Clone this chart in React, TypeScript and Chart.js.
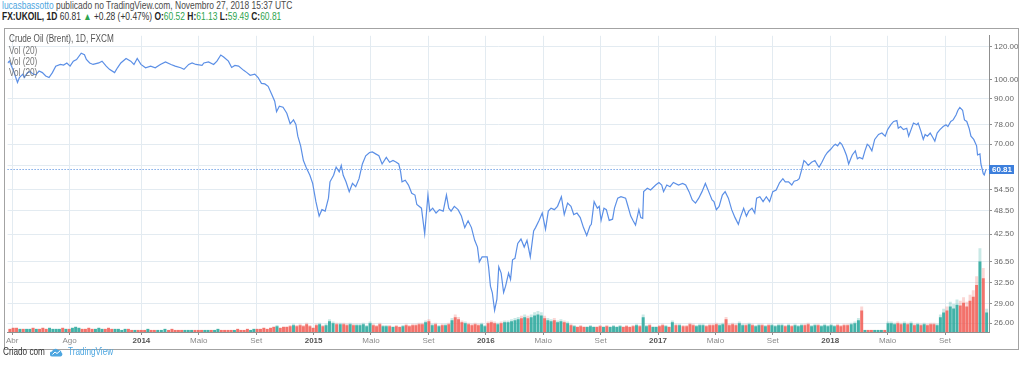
import React, { useEffect, useRef } from "react";
import { Chart, registerables } from "chart.js";

Chart.register(...registerables);

// ---------------- DATA ----------------
const PRICE_DATES: string[] = [
  "2013-03-22","2013-03-26","2013-04-05","2013-04-12","2013-04-16","2013-04-23","2013-04-26","2013-05-03","2013-05-09","2013-05-14",
  "2013-05-21","2013-05-28","2013-06-04","2013-06-11","2013-06-18","2013-06-25","2013-07-02","2013-07-12","2013-07-19","2013-07-26",
  "2013-08-02","2013-08-09","2013-08-16","2013-08-26","2013-09-02","2013-09-06","2013-09-13","2013-09-20","2013-10-02","2013-10-09",
  "2013-10-18","2013-10-25","2013-11-05","2013-11-11","2013-11-18","2013-11-29","2013-12-09","2013-12-16","2013-12-23","2013-12-31",
  "2014-01-10","2014-01-21","2014-01-31","2014-02-10","2014-02-20","2014-03-03","2014-03-12","2014-03-24","2014-03-31","2014-04-10",
  "2014-04-17","2014-04-25","2014-05-08","2014-05-12","2014-05-22","2014-06-02","2014-06-09","2014-06-17","2014-06-23","2014-07-03",
  "2014-07-10","2014-07-17","2014-07-25","2014-08-05","2014-08-12","2014-08-19","2014-08-29","2014-09-05","2014-09-12","2014-09-19",
  "2014-09-26","2014-10-03","2014-10-10","2014-10-14","2014-10-20","2014-10-28","2014-11-05","2014-11-12","2014-11-19","2014-11-24",
  "2014-11-28","2014-12-04","2014-12-10","2014-12-17","2014-12-24","2014-12-30","2015-01-06","2015-01-13","2015-01-19","2015-01-26",
  "2015-02-02","2015-02-05","2015-02-12","2015-02-17","2015-02-23","2015-02-27","2015-03-03","2015-03-09","2015-03-16","2015-03-23",
  "2015-03-30","2015-04-06","2015-04-13","2015-04-20","2015-04-28","2015-05-04","2015-05-11","2015-05-18","2015-05-25","2015-06-03",
  "2015-06-10","2015-06-17","2015-06-24","2015-06-29","2015-07-03","2015-07-06","2015-07-13","2015-07-20","2015-07-27","2015-08-03",
  "2015-08-07","2015-08-17","2015-08-24","2015-08-31","2015-09-04","2015-09-10","2015-09-17","2015-09-24","2015-10-02","2015-10-09",
  "2015-10-14","2015-10-19","2015-10-26","2015-11-03","2015-11-10","2015-11-17","2015-11-24","2015-12-01","2015-12-08","2015-12-14",
  "2015-12-18","2015-12-24","2016-01-04","2016-01-07","2016-01-11","2016-01-15","2016-01-20","2016-01-25","2016-01-29","2016-02-03",
  "2016-02-08","2016-02-12","2016-02-18","2016-02-22","2016-02-26","2016-03-02","2016-03-08","2016-03-15","2016-03-22","2016-03-28",
  "2016-04-04","2016-04-11","2016-04-15","2016-04-22","2016-04-29","2016-05-06","2016-05-12","2016-05-18","2016-05-25","2016-06-01",
  "2016-06-09","2016-06-15","2016-06-22","2016-06-29","2016-07-05","2016-07-12","2016-07-19","2016-07-26","2016-08-02","2016-08-09",
  "2016-08-12","2016-08-18","2016-08-25","2016-08-29","2016-09-02","2016-09-08","2016-09-13","2016-09-19","2016-09-26","2016-09-30",
  "2016-10-07","2016-10-14","2016-10-24","2016-10-28","2016-11-04","2016-11-09","2016-11-14","2016-11-21","2016-11-25","2016-11-29",
  "2016-12-01","2016-12-09","2016-12-16","2016-12-27","2017-01-03","2017-01-09","2017-01-13","2017-01-20","2017-01-27","2017-02-03",
  "2017-02-13","2017-02-21","2017-02-27","2017-03-06","2017-03-13","2017-03-20","2017-03-27","2017-04-03","2017-04-10","2017-04-17",
  "2017-04-24","2017-04-28","2017-05-03","2017-05-09","2017-05-16","2017-05-22","2017-05-29","2017-06-05","2017-06-12","2017-06-19",
  "2017-06-23","2017-06-30","2017-07-06","2017-07-11","2017-07-18","2017-07-24","2017-07-28","2017-08-04","2017-08-11","2017-08-18",
  "2017-08-25","2017-09-01","2017-09-08","2017-09-15","2017-09-22","2017-09-27","2017-10-04","2017-10-11","2017-10-16","2017-10-23",
  "2017-10-27","2017-11-01","2017-11-06","2017-11-10","2017-11-15","2017-11-22","2017-11-29","2017-12-05","2017-12-08","2017-12-14",
  "2017-12-21","2017-12-26","2018-01-02","2018-01-08","2018-01-12","2018-01-17","2018-01-22","2018-01-26","2018-01-31","2018-02-05",
  "2018-02-09","2018-02-13","2018-02-16","2018-02-22","2018-02-26","2018-03-02","2018-03-09","2018-03-14","2018-03-19","2018-03-23",
  "2018-03-29","2018-04-04","2018-04-12","2018-04-19","2018-04-26","2018-05-01","2018-05-08","2018-05-14","2018-05-21","2018-05-24",
  "2018-05-29","2018-06-04","2018-06-11","2018-06-15","2018-06-20","2018-06-25","2018-07-02","2018-07-05","2018-07-11","2018-07-16",
  "2018-07-20","2018-07-25","2018-07-31","2018-08-06","2018-08-10","2018-08-15","2018-08-21","2018-08-28","2018-09-03","2018-09-07",
  "2018-09-13","2018-09-18","2018-09-24","2018-09-28","2018-10-02","2018-10-08","2018-10-12","2018-10-17","2018-10-22","2018-10-26",
  "2018-11-01","2018-11-07","2018-11-09","2018-11-14","2018-11-16","2018-11-21","2018-11-23","2018-11-26","2018-11-27"
];

const PRICE_VALUES: number[] = [
  109.6,110.7,103.9,98.4,101.1,103.0,101.1,103.9,104.5,103.2,
  102.6,104.8,103.9,102.0,101.1,103.9,107.7,108.7,108.3,109.6,
  107.7,110.7,111.7,115.7,114.7,111.7,109.6,108.7,109.6,110.7,
  107.7,105.8,103.9,106.7,109.6,112.3,110.7,108.7,112.3,108.7,
  106.7,107.7,106.7,108.7,110.2,108.7,107.7,106.7,105.8,108.7,
  109.6,108.7,108.1,109.6,110.2,108.7,110.7,114.5,113.3,110.7,
  106.9,108.1,107.7,105.2,103.9,102.4,103.0,101.1,97.9,97.6,
  96.3,92.4,88.7,83.7,86.3,85.8,83.0,78.3,80.0,78.0,
  73.1,69.3,63.9,61.1,58.9,56.3,50.9,47.0,48.7,48.3,
  51.9,56.8,58.9,61.6,60.0,62.2,58.9,56.8,53.8,56.3,
  55.3,57.8,62.7,65.6,66.8,67.0,66.3,65.6,62.7,65.0,
  63.3,63.9,63.3,62.7,60.0,56.8,57.3,55.8,53.3,52.8,
  50.1,49.1,42.6,52.8,48.3,49.1,47.8,48.7,48.3,52.8,
  49.1,48.3,49.6,48.7,47.0,44.1,45.8,44.1,41.1,39.6,
  36.5,37.5,37.5,35.5,31.9,30.8,27.9,29.7,35.5,34.3,
  30.8,31.9,34.3,33.1,36.9,37.2,40.4,41.4,39.6,41.1,
  37.5,43.3,44.1,45.8,47.8,43.7,48.3,49.1,48.7,49.6,
  52.3,47.4,50.5,49.6,47.4,47.8,46.6,44.1,42.2,44.5,
  44.9,50.9,49.1,49.6,45.9,49.1,48.7,45.9,46.2,49.1,
  51.9,52.3,51.9,50.1,47.0,45.8,44.7,48.7,46.6,46.4,
  53.8,54.8,54.3,55.8,56.6,55.8,53.8,55.8,55.3,56.6,
  55.8,56.3,55.8,53.8,51.4,50.5,51.9,53.8,56.3,53.8,
  51.4,50.9,48.7,49.6,52.8,53.8,51.9,48.7,46.6,44.9,
  46.6,49.1,47.0,48.3,49.1,47.8,51.9,52.3,50.9,52.3,
  50.9,53.8,54.3,56.5,57.8,56.8,56.8,55.8,57.0,57.3,
  57.8,60.5,63.9,63.3,62.2,63.3,63.9,62.2,61.6,63.3,
  65.6,66.8,68.0,69.3,69.9,69.3,70.6,69.9,68.0,65.6,
  62.7,64.5,65.9,67.4,64.5,65.0,64.5,67.4,69.9,69.3,
  67.4,71.8,73.8,74.4,73.1,75.8,77.9,79.3,79.7,76.4,
  77.1,75.8,76.4,73.1,75.8,78.6,77.9,78.6,75.1,71.8,
  73.8,73.1,74.4,72.5,71.1,74.4,75.8,77.1,77.9,77.1,
  79.3,80.0,82.2,84.4,85.7,84.4,80.0,79.3,76.4,73.1,
  71.8,69.3,65.9,66.3,62.7,59.4,59.0,60.5,60.81
];

// weekly volume, one value per week starting on this Monday
const VOLUME_WEEK_START = "2013-03-25";
const VOLUME: number[] = [
  // 2013 Mar..Dec
  3, 4,4,3,3,3, 3,4,3,3, 4,3,4,3, 3,3,4,3,3, 4,5,4,3, 3,4,3,3,4, 3,3,4,3, 3,3,2,3, 3,2,2,2,2,
  // 2014
  2,3,2,2, 2,2,3,2, 3,2,2,2,2, 2,2,2,2, 2,2,2,2, 2,3,2,2,2, 2,2,3,2, 2,3,2,3, 3,3,4,3,4, 5,6,4,5, 5,6,7,6, 7,6,8,6,4,
  // 2015
  7,8,6,7, 11,9,8,8, 8,7,8,7,7, 7,8,6,9, 7,6,8,6, 6,6,5,6,5, 6,7,6,7, 7,8,8,10,11, 7,8,6,7, 7,8,12,15, 13,10,9,8,7, 8,7,8,6,
  // 2016
  9,10,9,8, 9,10,10,11,12, 13,14,15,14, 15,17,18,17, 14,12,11,12,10, 11,10,9,7, 6,5,6,5, 5,6,5,5,6, 5,6,5,6, 5,6,5,6,5, 6,7,6,15, 6,7,5,5,
  // 2017
  6,7,6,5,10, 7,7,6,6, 8,7,6,7, 7,6,7,7, 8,7,8,13,7, 8,7,9,7, 7,8,7,6,7, 7,6,7,7, 6,7,7,6, 7,6,7,6,7, 7,8,6,7, 7,6,7,6,
  // 2018 Jan..Nov
  7,6,7,6,7, 7,8,9,12, 22,2,2,2, 2,2,2,2,9, 9,8,9,8, 9,8,9,7, 8,7,8,7,8, 8,7,15,20, 22,26,24,28, 27,30,26,32,36, 48,72,55,20
];

const X_TICK_DATES: string[] = [
  "2013-04-01","2013-08-01","2014-01-01","2014-05-01","2014-09-01","2015-01-01","2015-05-01","2015-09-01","2016-01-01",
  "2016-05-01","2016-09-01","2017-01-01","2017-05-01","2017-09-01","2018-01-01","2018-05-01","2018-09-01"
];
const X_TICK_LABELS: string[] = [
  "Abr","Ago","2014","Maio","Set","2015","Maio","Set","2016","Maio","Set","2017","Maio","Set","2018","Maio","Set"
];
const X_RANGE: string[] = ["2013-03-22", "2018-12-03"];
const Y_TICKS: number[] = [26, 29, 32.5, 36.5, 42.5, 48.5, 54.5, 62, 70, 78, 90, 100, 120];
const Y_RANGE: number[] = [24.76, 127.35];
const VOLUME_AXIS_MAX = 303;
const VOLUME_LIGHT_AXIS_MAX = 255;
const LAST_PRICE = 60.81;

// ---------------- HELPERS ----------------
function monthIndexOf(d: Date): number {
  const y = d.getUTCFullYear();
  const m = d.getUTCMonth();
  const day = d.getUTCDate();
  const dim = new Date(Date.UTC(y, m + 1, 0)).getUTCDate();
  return (y - 2013) * 12 + m + (day - 1) / dim;
}
function monthIndex(s: string): number {
  const [y, m, d] = s.split("-").map(Number);
  return monthIndexOf(new Date(Date.UTC(y, m - 1, d)));
}

function hasFont(name: string): boolean {
  try {
    const c = document.createElement("canvas").getContext("2d");
    if (!c) return false;
    const s = "mmmmmmmmmmlli120.00WQ";
    c.font = "40px monospace";
    const a = c.measureText(s).width;
    c.font = `40px '${name}', monospace`;
    const b = c.measureText(s).width;
    return Math.abs(a - b) > 0.5;
  } catch (e) {
    return false;
  }
}

const NARROW = typeof document !== "undefined" && hasFont("Liberation Sans Narrow");
const FAMILY = NARROW
  ? "'Liberation Sans Narrow', 'Liberation Sans', Arial, sans-serif"
  : "'Liberation Sans', Arial, sans-serif";
const SQ = NARROW ? 1 : 0.82;
const TICK_SIZE = NARROW ? 9 : 8;

const GREEN = "#2da44e";
const BLUE_LINK = "#4da6e0";

function Squeeze({ children, style }: { children: React.ReactNode; style?: React.CSSProperties }) {
  return (
    <div
      style={{
        position: "absolute",
        whiteSpace: "nowrap",
        transform: `scaleX(${SQ})`,
        transformOrigin: "0 50%",
        fontFamily: FAMILY,
        ...style,
      }}
    >
      {children}
    </div>
  );
}

export default function App() {
  const ref = useRef<HTMLCanvasElement | null>(null);

  useEffect(() => {
    if (!ref.current) return;

    const priceX = PRICE_DATES.map(monthIndex);
    const priceData = PRICE_VALUES.map((v, i) => ({ x: priceX[i], y: v }));

    const start = new Date(VOLUME_WEEK_START + "T00:00:00Z");
    const volX = VOLUME.map((_, i) => monthIndexOf(new Date(start.getTime() + (i * 7 + 2) * 86400000)));
    const volData = VOLUME.map((v, i) => ({ x: volX[i], y: v }));
    const up = volX.map((x) => {
      let j = priceX.findIndex((p) => p >= x);
      if (j < 0) j = priceX.length - 1;
      if (j === 0) j = 1;
      return PRICE_VALUES[j] >= PRICE_VALUES[j - 1];
    });
    const volColors = up.map((u) => (u ? "rgba(38,166,154,0.82)" : "rgba(240,92,84,0.82)"));
    const volLight = up.map((u) => (u ? "rgba(38,166,154,0.25)" : "rgba(240,92,84,0.25)"));

    const xTicks = X_TICK_DATES.map(monthIndex);
    const isYear = (i: number) => /^\d{4}$/.test(X_TICK_LABELS[i] || "");

    const GRID = "#e3ebf1";
    const AXIS = "#8f8f8f";

    const lastPricePlugin = {
      id: "lastPrice",
      beforeDatasetsDraw(chart: any) {
        const { ctx, chartArea, scales } = chart;
        const y = Math.round(scales.price.getPixelForValue(LAST_PRICE)) + 0.5;
        ctx.save();
        ctx.strokeStyle = "#3d7fdc";
        ctx.lineWidth = 1;
        ctx.setLineDash([1, 2]);
        ctx.beginPath();
        ctx.moveTo(chartArea.left, y);
        ctx.lineTo(chartArea.right, y);
        ctx.stroke();
        ctx.restore();
      },
      afterDraw(chart: any) {
        const { ctx, chartArea, scales } = chart;
        const y = scales.price.getPixelForValue(LAST_PRICE);
        ctx.save();
        ctx.fillStyle = "#3d7fdc";
        ctx.fillRect(chartArea.right, Math.round(y) - 4, 25, 9);
        ctx.fillStyle = "#ffffff";
        ctx.font = `bold ${TICK_SIZE}px ${FAMILY}`;
        ctx.textAlign = "left";
        ctx.textBaseline = "middle";
        ctx.fillText(LAST_PRICE.toFixed(2), chartArea.right + 3, Math.round(y) + 0.5);
        ctx.restore();
      },
    };

    const chart = new Chart(ref.current, {
      type: "line",
      data: {
        datasets: [
          {
            type: "line",
            data: priceData,
            yAxisID: "price",
            borderColor: "#5b8fe6",
            borderWidth: 1.2,
            pointRadius: 0,
            tension: 0,
            fill: false,
            order: 0,
          } as any,
          {
            type: "bar",
            data: volData,
            yAxisID: "vol",
            backgroundColor: volColors,
            borderWidth: 0,
            barPercentage: 1,
            categoryPercentage: 0.9,
            grouped: false,
            order: 1,
          } as any,
          {
            type: "bar",
            data: volData,
            yAxisID: "vol2",
            backgroundColor: volLight,
            borderWidth: 0,
            barPercentage: 1,
            categoryPercentage: 0.9,
            grouped: false,
            order: 2,
          } as any,
        ],
      },
      options: {
        animation: false,
        responsive: false,
        maintainAspectRatio: false,
        events: [],
        layout: { padding: 0, autoPadding: false } as any,
        plugins: { legend: { display: false }, tooltip: { enabled: false } },
        scales: {
          x: {
            type: "linear",
            min: monthIndex(X_RANGE[0]),
            max: monthIndex(X_RANGE[1]),
            offset: false,
            grid: { color: GRID, tickLength: 3, tickColor: AXIS, offset: false } as any,
            border: { color: AXIS },
            ticks: {
              autoSkip: false,
              maxRotation: 0,
              minRotation: 0,
              padding: 1,
              callback: (_v: any, i: number) => X_TICK_LABELS[i],
              font: (ctx: any) => ({ family: FAMILY, size: TICK_SIZE, weight: isYear(ctx.index) ? "bold" : "normal" }),
              color: (ctx: any) => (isYear(ctx.index) ? "#555555" : "#8a8a8a"),
            } as any,
            afterBuildTicks: (s: any) => {
              s.ticks = xTicks.map((v) => ({ value: v }));
            },
            afterFit: (s: any) => {
              s.height = 17;
            },
          } as any,
          price: {
            type: "logarithmic",
            position: "right",
            min: Y_RANGE[0],
            max: Y_RANGE[1],
            bounds: "data",
            grid: { color: GRID, tickLength: 3, tickColor: AXIS },
            border: { color: AXIS },
            ticks: {
              autoSkip: false,
              padding: 2,
              font: { family: FAMILY, size: TICK_SIZE },
              color: "#666666",
              callback: (v: any) => (Number(v) === 62 ? "" : Number(v).toFixed(2)),
            },
            afterBuildTicks: (s: any) => {
              s.ticks = Y_TICKS.map((v) => ({ value: v }));
            },
            afterFit: (s: any) => {
              s.width = 29;
            },
          } as any,
          vol: { type: "linear", display: false, min: 0, max: VOLUME_AXIS_MAX },
          vol2: { type: "linear", display: false, min: 0, max: VOLUME_LIGHT_AXIS_MAX },
        },
      },
      plugins: [lastPricePlugin],
    } as any);

    return () => chart.destroy();
  }, []);

  return (
    <div
      style={{
        position: "absolute",
        left: 0,
        top: 0,
        width: 1023,
        height: 373,
        background: "#ffffff",
        overflow: "hidden",
        fontFamily: FAMILY,
      }}
    >
      <Squeeze style={{ left: 2, top: 0, fontSize: 10.3, lineHeight: "12px", color: "#4a4a4a" }}>
        <span style={{ color: BLUE_LINK }}>lucasbassotto</span> publicado no TradingView.com, Novembro 27, 2018 15:37 UTC
      </Squeeze>
      <Squeeze style={{ left: 2, top: 11, fontSize: 10.3, lineHeight: "12px", color: "#333333" }}>
        <b style={{ color: "#222" }}>FX:UKOIL, 1D</b> 60.81 <span style={{ color: GREEN }}>▲</span> +0.28 (+0.47%){" "}
        <b style={{ color: "#222" }}>O:</b>
        <span style={{ color: GREEN }}>60.52</span> <b style={{ color: "#222" }}>H:</b>
        <span style={{ color: GREEN }}>61.13</span> <b style={{ color: "#222" }}>L:</b>
        <span style={{ color: GREEN }}>59.49</span> <b style={{ color: "#222" }}>C:</b>
        <span style={{ color: GREEN }}>60.81</span>
      </Squeeze>

      <div
        style={{
          position: "absolute",
          left: 4,
          top: 28,
          width: 1015,
          height: 322,
          border: "1px solid #a3a3a3",
          boxSizing: "border-box",
        }}
      >
        <canvas ref={ref} width={1013} height={320} style={{ display: "block", width: 1013, height: 320 }} />
      </div>

      <Squeeze style={{ left: 9, top: 33, fontSize: 10, lineHeight: "12px", color: "#555555" }}>
        Crude Oil (Brent), 1D, FXCM
      </Squeeze>
      <Squeeze style={{ left: 9, top: 45, fontSize: 10, lineHeight: "12px", color: "#777777" }}>Vol (20)</Squeeze>
      <Squeeze style={{ left: 9, top: 56, fontSize: 10, lineHeight: "12px", color: "#777777" }}>Vol (20)</Squeeze>
      <Squeeze style={{ left: 9, top: 67, fontSize: 10, lineHeight: "12px", color: "#777777" }}>Vol (20)</Squeeze>

      <Squeeze style={{ left: 3, top: 346, fontSize: 10, lineHeight: "12px", color: "#333333" }}>Criado com</Squeeze>
      <svg
        style={{ position: "absolute", left: 50, top: 348 }}
        width={13}
        height={9}
        viewBox="0 0 26 18"
      >
        <path
          d="M5 17 A5 5 0 0 1 4 7 A7 7 0 0 1 16 4 A5.5 5.5 0 0 1 23 9 A4.5 4.5 0 0 1 21 17 Z"
          fill={BLUE_LINK}
        />
        <polyline points="5,13 10,8 14,11 20,6" fill="none" stroke="#ffffff" strokeWidth={2} />
      </svg>
      <Squeeze style={{ left: 68, top: 346, fontSize: 10, lineHeight: "12px", color: BLUE_LINK }}>TradingView</Squeeze>
    </div>
  );
}
